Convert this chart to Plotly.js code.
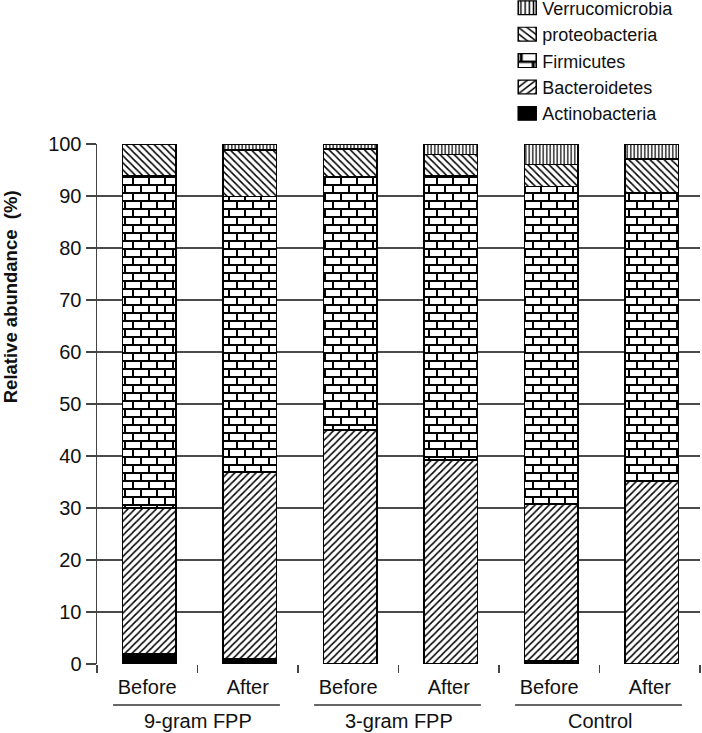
<!DOCTYPE html>
<html>
<head>
<meta charset="utf-8">
<script src="https://cdn.plot.ly/plotly-3.0.1.min.js"></script>
<style>
  html, body { margin: 0; padding: 0; background: #fff; }
  #chart { width: 702px; height: 733px; }
</style>
</head>
<body>
<div id="chart"></div>
<script>
// ---- data ----
const groups = ['9-gram FPP', '3-gram FPP', 'Control'];
const timepoints = ['Before', 'After', 'Before', 'After', 'Before', 'After'];
const categories = ['9-gram FPP Before', '9-gram FPP After', '3-gram FPP Before', '3-gram FPP After', 'Control Before', 'Control After'];
const seriesNames = ['Actinobacteria', 'Bacteroidetes', 'Firmicutes', 'proteobacteria', 'Verrucomicrobia'];
const actinobacteria  = [2.0, 1.0, 0.0, 0.0, 0.6, 0.0];
const bacteroidetes   = [28.0, 35.9, 45.0, 39.2, 30.2, 35.2];
const firmicutes      = [63.9, 53.0, 48.7, 54.7, 61.0, 55.5];
const proteobacteria  = [6.1, 8.9, 5.3, 4.1, 4.3, 6.4];
const verrucomicrobia = [0.0, 1.2, 1.0, 2.0, 3.9, 2.9];
const yTicks = [0, 10, 20, 30, 40, 50, 60, 70, 80, 90, 100];

const seriesValues = [actinobacteria, bacteroidetes, firmicutes, proteobacteria, verrucomicrobia];
const patterns = [
  { shape: '', fgcolor: '#000', bgcolor: '#000' },
  { shape: '/', fgcolor: '#000', bgcolor: '#fff', size: 5, solidity: 0.3 },
  { shape: '+', fgcolor: '#000', bgcolor: '#fff', size: 8, solidity: 0.25 },
  { shape: '\\', fgcolor: '#000', bgcolor: '#fff', size: 5, solidity: 0.3 },
  { shape: '|', fgcolor: '#000', bgcolor: '#fff', size: 3.5, solidity: 0.35 }
];

const traces = seriesNames.map((name, i) => ({
  type: 'bar',
  name: name,
  x: categories,
  y: seriesValues[i],
  width: 0.53,
  offset: -0.245,
  marker: {
    color: i === 0 ? '#000' : '#fff',
    line: { color: '#000', width: 1.5 },
    pattern: patterns[i]
  },
  hoverinfo: 'skip'
}));

const font = 'Arial, "Liberation Sans", Helvetica, sans-serif';

const shapes = groups.map((g, k) => ({
  type: 'line', xref: 'x', yref: 'paper',
  x0: 2 * k - 0.34, x1: 2 * k + 1.32,
  y0: -0.079, y1: -0.079,
  line: { color: '#333', width: 1.5 }
}));

const annotations = groups.map((g, k) => ({
  text: g, xref: 'x', yref: 'paper',
  x: 2 * k + 0.5, y: -0.109, yanchor: 'middle', xanchor: 'center',
  showarrow: false, font: { family: font, size: 20, color: '#111' }
}));
annotations.push({
  text: 'Relative abundance\u00a0\u00a0(%)', xref: 'paper', yref: 'paper',
  x: -0.142, y: 0.706, xanchor: 'center', yanchor: 'middle', textangle: -90,
  showarrow: false, font: { family: font, size: 18.5, color: '#111', weight: 'bold' }
});

const layout = {
  width: 702, height: 733,
  margin: { l: 97, r: 2, t: 144, b: 69, autoexpand: false },
  paper_bgcolor: '#fff', plot_bgcolor: '#fff',
  barmode: 'stack',
  showlegend: true,
  legend: {
    x: 0.672, y: 1.297, xanchor: 'left', yanchor: 'top',
    traceorder: 'reversed', tracegroupgap: 0,
    font: { family: font, size: 18, color: '#111' },
    bgcolor: 'rgba(0,0,0,0)'
  },
  xaxis: {
    type: 'category',
    tickmode: 'array', tickvals: categories, ticktext: timepoints,
    tickson: 'boundaries', ticks: 'outside', ticklen: 8, tickwidth: 1.5, tickcolor: '#444',
    ticklabelstandoff: 9,
    showline: false, showgrid: false, zeroline: false,
    tickfont: { family: font, size: 20, color: '#111' },
    range: [-0.5, 5.5]
  },
  yaxis: {
    range: [0, 100], tickmode: 'array', tickvals: yTicks,
    ticks: 'outside', ticklen: 10, tickwidth: 1.5, tickcolor: '#444',
    showline: true, linecolor: '#444', linewidth: 1.5,
    showgrid: true, gridcolor: '#4a4a4a', gridwidth: 1.5,
    zeroline: false,
    tickfont: { family: font, size: 20, color: '#111' }
  },
  shapes: shapes,
  annotations: annotations
};

const gd = document.getElementById('chart');

function applyBrick() {
  const NS = 'http://www.w3.org/2000/svg';
  if (!document.getElementById('brickpat')) {
    const svg = gd.querySelector('svg.main-svg');
    let defs = svg.querySelector('defs');
    if (!defs) { defs = document.createElementNS(NS, 'defs'); svg.insertBefore(defs, svg.firstChild); }
    const pat = document.createElementNS(NS, 'pattern');
    pat.setAttribute('id', 'brickpat');
    pat.setAttribute('patternUnits', 'userSpaceOnUse');
    pat.setAttribute('width', '16');
    pat.setAttribute('height', '16');
    const rect = document.createElementNS(NS, 'rect');
    rect.setAttribute('width', '16'); rect.setAttribute('height', '16'); rect.setAttribute('fill', '#fff');
    pat.appendChild(rect);
    const p = document.createElementNS(NS, 'path');
    p.setAttribute('d', 'M0 1H16M0 9H16M4 1V9M12 9V17M12 -1V1');
    p.setAttribute('stroke', '#000'); p.setAttribute('stroke-width', '2'); p.setAttribute('fill', 'none');
    pat.appendChild(p);
    defs.appendChild(pat);
  }
  const barTraces = gd.querySelectorAll('.barlayer .trace.bars');
  if (barTraces[2]) {
    barTraces[2].querySelectorAll('path').forEach(pp => { pp.style.fill = 'url(#brickpat)'; });
  }
  gd.querySelectorAll('.legend .traces').forEach(t => {
    const txt = t.querySelector('.legendtext');
    t.querySelectorAll('.legendpoints path').forEach(pp => {
      pp.setAttribute('transform', 'translate(25,0) scale(1.5,1.15)');
      pp.style.strokeWidth = '1px';
      if (txt && txt.textContent === 'Firmicutes') pp.style.fill = 'url(#brickpat)';
    });
  });
}

Plotly.newPlot(gd, traces, layout, { staticPlot: true, displayModeBar: false }).then(applyBrick);
gd.on && gd.on('plotly_afterplot', applyBrick);
</script>
</body>
</html>
